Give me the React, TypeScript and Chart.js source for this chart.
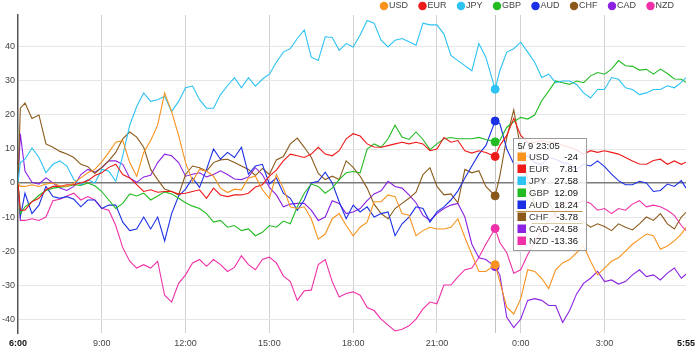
import React, { useEffect, useRef } from "react";
import { Chart, registerables } from "chart.js";

Chart.register(...registerables);

const currencies = ["USD", "EUR", "JPY", "GBP", "AUD", "CHF", "CAD", "NZD"];

// samples: 6:00, 6:05, then every 15 minutes (23:05 in place of 23:00), last one 5:55
const usd = [0, -1,
  -1, -0.5, -1, -0.3, 0, -0.8, -1, 0, 1.5, 3,
  4, 6.2, 9, 12, 12.5, 6, 2, 9, 12.5, 17,
  26.5, 21, 14, 6, 0.5, 4, 3.5, 2, -1.5, -2.8,
  -1.8, -2, 1.5, 2, -2, -4.5, 2.5, -1.5, -7, -7.5,
  -7, -10.5, -16.5, -15, -10.5, -9, -12.5, -15.5, -13, -11.5,
  -5.5, -5.5, -3.5, -4, -9, -9.5, -15.5, -14, -13, -13.5,
  -13.5, -13, -10.5, -16, -21, -26, -26, -24, -29, -36.5,
  -38.5, -34, -25.5, -26, -28, -31, -25.5, -23.5, -22.5, -20.5,
  -18.5, -23, -27, -25, -23, -22, -20, -18, -16.5, -15,
  -15.5, -19.5, -18.5, -17, -15, -13];

const eur = [0, -8,
  -8, -5.5, -4.5, -2, -1, -1, -0.5, -0.5, 0, 0.7,
  2.2, 3, 4.6, 5.5, 2.5, 1.5, -0.5, -2.5, -2, -2.7,
  -2.5, -2.5, -3.2, -3, -2.5, -2, -4.5, -1.5, -3.5, -4,
  -3.5, -3.5, -3, -1.2, -0.5, 2, 3.8, 6.5, 8.5, 8,
  7.5, 8.5, 10.5, 8.5, 8, 9.5, 13, 14.5, 13.8, 11.5,
  10.6, 10.5, 11, 11.5, 12, 11.5, 12, 11.5, 9.5, 10,
  13.4, 12, 12.5, 9.5, 8.8, 9.5, 9, 7.81, 11, 14,
  19, 14, 12, 12, 12.5, 12, 12, 11, 10.5, 9.7,
  8.5, 9.5, 9, 9.5, 9, 8.5, 7.5, 6.5, 5.6, 5.5,
  6.6, 7, 5.5, 6.5, 5.5, 6.1];

const jpy = [0, 6,
  7, 10.3, 7.5, 3, 5.5, 6.5, 5, 1, -0.5, 1,
  0, 4, 3.5, 0.5, 8, 17, 22.5, 26.5, 24, 24.5,
  25.5, 21, 24, 28, 28.5, 24.5, 22, 22, 26, 28.6,
  31, 28, 31, 28.5, 30.5, 32, 35.5, 38.5, 39.5, 42.5,
  45, 37, 36, 43, 42.8, 39, 41, 40, 43.5, 47.8,
  47, 42, 40, 42, 42.5, 41.5, 40.5, 47, 46.5, 46.5,
  43.8, 37.5, 36, 34.5, 33, 41, 37, 27.58, 33, 38.5,
  39.5, 41.4, 38.5, 35.5, 31, 32, 29.5, 30, 30, 29,
  26.5, 25, 27.5, 27.5, 31, 30.5, 28, 27.5, 26, 26.5,
  27.5, 27.5, 28.6, 28, 29.6, 31];

const gbp = [0, -9,
  -7, -5.5, -3.6, -2.2, -1.5, -1.2, -1, -0.5, -0.7, 0,
  -0.8, -2.5, -5, -7.5, -6, -3.2, -3.8, -3, -5, -3.8,
  -2.6, -3.2, -4.5, -5.8, -6.8, -7.5, -9, -11.5, -11, -13,
  -12.5, -14, -13.5, -15.5, -14.5, -12.5, -13, -11.2, -12, -7,
  -3, -0.3, -1, -3, -1.5, 1, 3, 3.4, 3, 10,
  11.5, 10.5, 13, 17, 13.5, 12.8, 15, 12.8, 9.8, 11.5,
  13, 13.4, 13, 13, 13, 13.4, 12.8, 12.09, 12.5, 16.4,
  18, 19.3, 18.8, 20, 24.2, 27, 30, 29.5, 29, 30,
  29.5, 31.5, 32.5, 32, 33.5, 36, 34.5, 34.3, 33.2, 33.4,
  32, 33.5, 32.2, 30.6, 30.5, 29.6];

const aud = [0, -10,
  -3, -9, -6.5, -1, -4, -4.5, -4, -4.8, -7, -5,
  -5, -7.5, -6.5, -6.5, -11.5, -14, -13.5, -10, -13.5, -10,
  -17, -9, -3.8, -1.8, 1.5, -1.3, 4, 10, 7, 9,
  7.5, 10.5, 2.6, 5, 5.5, -0.3, 1.5, -3, -4.5, -8,
  -5, 0, 0.5, 3.2, 0, -5.5, -10.5, -6.5, -8.5, -7,
  -10, -9, -8.5, -15.5, -12, -10, -7, -7.5, -11.5, -8.5,
  -7, -5, -2.3, 1.5, 5, 8.5, 11, 18.24, 17.5, 10,
  5.6, 6, 8, 6, 5.5, 7.5, 7, 6, 5.5, 4,
  5.5, 5, 6.5, 4.8, 2.6, 0.7, -0.5, -0.5, 0.5, 0,
  -2.5, -2.2, -0.3, -1, 0.7, -1.5];

const chf = [0, 22,
  23.5, 19, 20, 11.5, 10.5, 9.3, 8.5, 7.5, 5.5, 4.8,
  2.8, 4.6, 6.6, 9, 13, 15, 13.5, 10.5, 4, 1,
  -1.8, -2.5, -3.5, 2.5, 5, 4.5, 3.5, 6, 6.8, 7,
  6, 5, 4, 2.2, 4.3, 2.5, 6.8, 7.8, 11.5, 13.2,
  10.5, 7.6, 2.8, 1, 2, 1, 6.5, 4.6, 2, -1.5,
  -6.2, -9, -10.5, -7.5, -6, -4.5, -2.7, 2.5, 4.5, -1,
  -3.5, -3.2, -5.8, 4, 3, 3.6, -1, -3.78, 2, 13.4,
  21.5, 10, 1, -6.5, -6, -5, -10, -10, -11, -10.5,
  -11.5, -13, -12, -12.8, -14, -12, -13, -13.8, -12, -10,
  -11, -9, -12, -13.5, -10, -8.6];

const cad = [0, 14.5,
  3.5, 0.2, -0.3, 1.5, 0, -1.5, -2.2, -1, 2.5, 4,
  3.2, 4.5, 6.5, 6.5, 5.5, 1.5, 0.2, 1.8, 2.3, 6,
  8.5, 8, 6, 2, 2.6, 3, 1.8, 2.5, 3.6, 2.5,
  1.2, 1, 1.8, 4.5, 2.5, -1.3, -3.5, -7, -6.2, -6,
  -6, -8, -11, -10, -5.2, -6, -9, -8.5, -7.5, -5.2,
  -3.2, -2.3, 0.5, -1, -1.5, -3.5, -5.8, -9.5, -11, -9,
  -7.5, -6.5, -6, -10, -18, -22, -22.5, -24.58, -27, -39.5,
  -42.5, -40, -34.5, -34, -34.5, -36, -36, -41, -37.5, -32.6,
  -29.5, -28, -26, -29, -28.5, -29.7, -29, -27, -25.5, -27.5,
  -27, -28.5, -26.5, -25, -28, -26.8];

const nzd = [0, -11,
  -11, -10.5, -11, -10, -5.2, -4.8, -3.8, -3, -5, -4,
  -5, -7.4, -8, -12.5, -19, -23, -25, -24, -25, -23,
  -33, -35, -29.5, -27, -23.5, -22.5, -24.5, -22.5, -24, -26,
  -24.8, -21.4, -24, -25.5, -22.5, -21.8, -23.5, -27.3, -29, -34.5,
  -31.7, -31.5, -24, -22.5, -29, -33.5, -32.5, -32, -33, -36.6,
  -37.5, -40, -41.8, -43.5, -43, -42, -40, -37, -35, -35.5,
  -30, -30, -27.6, -25.5, -25, -21.9, -18, -13.36, -17.5, -20.5,
  -26.5, -25.5, -21, -17.5, -14, -11, -9, -6, -5.5, -6,
  -5.2, -6, -8, -7.5, -9, -7.5, -8, -6.2, -5.2, -7,
  -6.5, -7, -8, -9.5, -12.5, -14];

const seriesValues = [usd, eur, jpy, gbp, aud, chf, cad, nzd];
const lineColors = ["#f7931e", "#ee1a1a", "#2cc2f2", "#22bb22", "#1b30e6", "#8b5a1b", "#8b22e2", "#ef30a8"];

const startHour = 6;
const hoverMinute = 1025; // 23:05
const hoverDate = "5/ 9";
const hoverSeries = 5; // CHF row highlighted
const xTickMinutes = [0, 180, 360, 540, 720, 900, 1080, 1260, 1435];
const yTickValues = [-40, -30, -20, -10, 0, 10, 20, 30, 40];

const times: number[] = [0, 5];
for (let k = 1; k <= 95; k++) times.push(k * 15 === 1020 ? hoverMinute : k * 15);
times.push(1435);

const fontFamily = "Arial, 'Liberation Sans', Helvetica, sans-serif";

function minuteLabel(m: number): string {
  const total = startHour * 60 + m;
  const h = Math.floor(total / 60) % 24;
  const mm = total % 60;
  return `${h}:${String(mm).padStart(2, "0")}`;
}

const overlayPlugin = {
  id: "hoverOverlay",
  afterLayout(chart: any) {
    const lg = chart.legend;
    if (lg) {
      lg.top = -12.5;
    }
  },
  beforeDatasetsDraw(chart: any) {
    const { ctx, chartArea } = chart;
    const x = Math.round(chart.scales.x.getPixelForValue(hoverMinute)) + 0.5;
    ctx.save();
    ctx.strokeStyle = "#c4c4c4";
    ctx.lineWidth = 1;
    ctx.beginPath();
    ctx.moveTo(x, chartArea.top);
    ctx.lineTo(x, chartArea.bottom);
    ctx.stroke();
    ctx.restore();
  },
  afterDraw(chart: any) {
    const { ctx, chartArea } = chart;
    const idx = times.indexOf(hoverMinute);
    const xPix = chart.scales.x.getPixelForValue(hoverMinute);
    const left = Math.round(xPix) + 18.5;
    const top = Math.round(chartArea.top) + 123.5;
    const width = 73;
    const rowH = 12;
    const height = 18 + (currencies.length - 1) * rowH + 10;
    ctx.save();
    ctx.fillStyle = "rgba(255,255,255,0.86)";
    ctx.fillRect(left, top, width, height);
    ctx.strokeStyle = "#9a9a9a";
    ctx.lineWidth = 1;
    ctx.strokeRect(left, top, width, height);
    ctx.textBaseline = "middle";
    ctx.font = `9.5px ${fontFamily}`;
    ctx.fillStyle = "#222";
    ctx.textAlign = "left";
    ctx.fillText(`${hoverDate} ${minuteLabel(hoverMinute)}`, left + 4, top + 7.5);
    currencies.forEach((name, i) => {
      const cy = top + 18 + i * rowH;
      ctx.fillStyle = lineColors[i];
      ctx.fillRect(left + 4, cy - 4, 8.5, 8.5);
      ctx.font = `9.5px ${fontFamily}`;
      ctx.fillStyle = "#3a3a3a";
      ctx.textAlign = "left";
      ctx.fillText(name, left + 15.5, cy + 0.5);
      ctx.fillStyle = "#111";
      ctx.textAlign = "right";
      ctx.fillText(String(seriesValues[i][idx]), left + 64.5, cy + 0.5);
    });
    const hy = top + 18 + hoverSeries * rowH;
    ctx.strokeStyle = "rgba(176,128,40,0.85)";
    ctx.beginPath();
    ctx.moveTo(left + 3, Math.round(hy - 6) + 0.5);
    ctx.lineTo(left + 69, Math.round(hy - 6) + 0.5);
    ctx.stroke();
    ctx.strokeStyle = "rgba(190,165,90,0.55)";
    ctx.beginPath();
    ctx.moveTo(left + 18, Math.round(hy + 6) + 0.5);
    ctx.lineTo(left + 69, Math.round(hy + 6) + 0.5);
    ctx.stroke();
    ctx.restore();
  },
};

export default function App() {
  const canvasRef = useRef<HTMLCanvasElement | null>(null);

  useEffect(() => {
    if (!canvasRef.current) return;
    const datasets = currencies.map((name, i) => ({
      label: name,
      data: seriesValues[i].map((v, j) => ({ x: times[j], y: v })),
      borderColor: lineColors[i],
      backgroundColor: lineColors[i],
      borderWidth: 1.1,
      pointRadius: 0,
      pointHoverRadius: 4,
      pointHoverBorderWidth: 1,
      pointHoverBackgroundColor: lineColors[i],
      pointHoverBorderColor: lineColors[i],
      tension: 0,
      fill: false,
    }));

    const chart = new Chart(canvasRef.current, {
      type: "line",
      data: { datasets },
      options: {
        responsive: true,
        maintainAspectRatio: false,
        animation: false,
        events: [],
        layout: { padding: { left: 0, right: 12, top: 0, bottom: 0 } },
        plugins: {
          tooltip: { enabled: false },
          legend: {
            display: true,
            position: "top",
            align: "end",
            maxHeight: 15,
            labels: {
              usePointStyle: true,
              pointStyle: "circle",
              boxWidth: 1,
              boxHeight: 5.2,
              padding: 14,
              color: "#444",
              font: { size: 9, family: fontFamily },
            },
          },
        },
        scales: {
          x: {
            type: "linear",
            min: 0,
            max: 1435,
            afterBuildTicks: (s: any) => {
              s.ticks = xTickMinutes.map((v) => ({ value: v }));
            },
            afterFit: (s: any) => {
              s.height = 21;
            },
            ticks: {
              padding: 5,
              autoSkip: false,
              maxRotation: 0,
              callback: (v: any) => minuteLabel(Number(v)),
              font: (c: any) => {
                const v = c.tick ? c.tick.value : -1;
                const edge = v === 0 || v === 1435;
                return { size: 9, family: fontFamily, weight: edge ? "bold" : "normal" };
              },
              color: (c: any) => {
                const v = c.tick ? c.tick.value : -1;
                return v === 0 || v === 1435 ? "#111" : "#444";
              },
            },
            grid: {
              drawTicks: false,
              lineWidth: 1,
              color: (c: any) => {
                const v = c.tick ? c.tick.value : -1;
                return v === 0 || v === 1435 ? "rgba(0,0,0,0)" : "#d2d2d2";
              },
            },
            border: { display: false },
          },
          y: {
            min: -44.1,
            max: 49.4,
            afterBuildTicks: (s: any) => {
              s.ticks = yTickValues.map((v) => ({ value: v }));
            },
            afterFit: (s: any) => {
              s.width = 18;
            },
            ticks: {
              padding: 3,
              color: "#444",
              font: { size: 9, family: fontFamily },
            },
            grid: {
              drawTicks: false,
              color: (c: any) => (c.tick && c.tick.value === 0 ? "#7a7a7a" : "#e6e6e6"),
              lineWidth: (c: any) => (c.tick && c.tick.value === 0 ? 1.5 : 1),
            },
            border: { display: true, color: "#555", width: 1.5 },
          },
        },
      },
      plugins: [overlayPlugin],
    } as any);

    const idx = times.indexOf(hoverMinute);
    chart.setActiveElements(currencies.map((_, i) => ({ datasetIndex: i, index: idx })));
    chart.update();

    return () => chart.destroy();
  }, []);

  return (
    <div style={{ position: "absolute", left: 0, top: 0, width: 700, height: 354, background: "#fff" }}>
      <canvas ref={canvasRef} />
    </div>
  );
}
